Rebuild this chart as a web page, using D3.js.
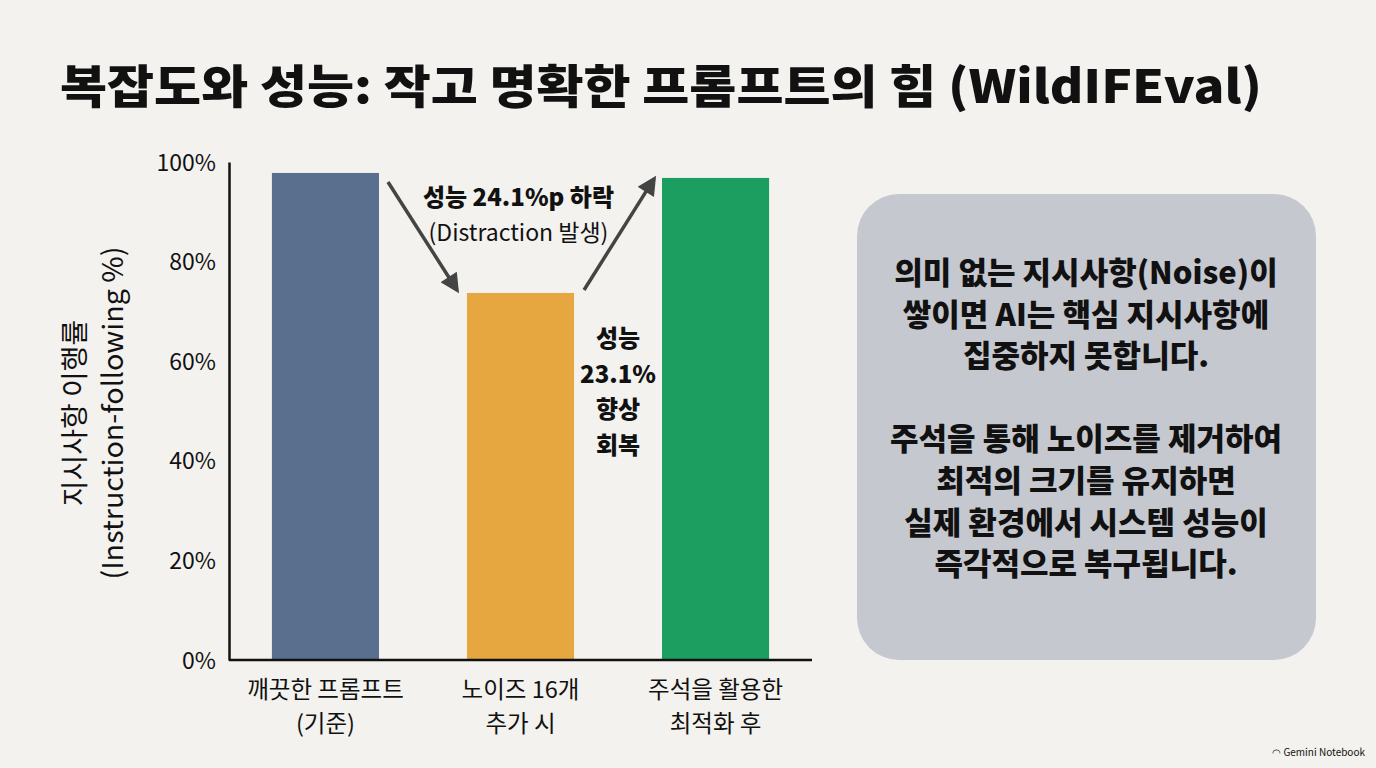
<!DOCTYPE html>
<html>
<head>
<meta charset="utf-8">
<title>복잡도와 성능</title>
<style>
	body { margin: 0; background: #f3f2ee; }
	svg text { font-family: "Noto Sans CJK KR", "Noto Sans", sans-serif; fill: #111; }
	.axis path { stroke: #111; stroke-width: 2.5; }
	.axis text { font-size: 23px; }
</style>
<script src="https://d3js.org/d3.v7.min.js"></script>
</head>
<body>
<svg id="chart"></svg>
<script>
	// data
	var categories = ["깨끗한 프롬프트|(기준)", "노이즈 16개|추가 시", "주석을 활용한|최적화 후"];
	var scores = [97.8, 73.7, 96.8];
	var barColors = ["#5a6f8e", "#e6a741", "#1b9e60"];
	var yTicks = [0, 20, 40, 60, 80, 100];
	var dropNote = ["성능 24.1%p 하락", "(Distraction 발생)"];
	var riseNote = ["성능", "23.1%", "향상", "회복"];
	var boxLines = ["의미 없는 지시사항(Noise)이", "쌓이면 AI는 핵심 지시사항에", "집중하지 못합니다.", "",
		"주석을 통해 노이즈를 제거하여", "최적의 크기를 유지하면", "실제 환경에서 시스템 성능이", "즉각적으로 복구됩니다."];

	var W = 1376, H = 768;
	var svg = d3.select("#chart").attr("width", W).attr("height", H);

	svg.append("rect").attr("width", W).attr("height", H).attr("fill", "#f3f2ee");

	// title
	svg.append("text")
		.attr("x", 60).attr("y", 103)
		.attr("textLength", 1202).attr("lengthAdjust", "spacingAndGlyphs")
		.style("font-size", "46px").style("font-weight", 900)
		.text("복잡도와 성능: 작고 명확한 프롬프트의 힘 (WildIFEval)");

	var x = d3.scaleBand()
		.domain(categories)
		.range([229, 812])
		.paddingInner(0.451)
		.paddingOuter(0.22);

	var y = d3.scaleLinear().domain([0, 100]).range([660, 162]);

	var defs = svg.append("defs");
	defs.append("marker")
		.attr("id", "head")
		.attr("viewBox", "0 0 10 10")
		.attr("refX", 8).attr("refY", 5)
		.attr("markerWidth", 6).attr("markerHeight", 5.5)
		.attr("orient", "auto")
		.append("path").attr("d", "M0,0 L10,5 L0,10 Z").attr("fill", "#444");

	// bars
	svg.append("g").selectAll("rect")
		.data(scores)
		.enter().append("rect")
		.attr("x", function(d, i) { return x(categories[i]); })
		.attr("y", function(d) { return y(d); })
		.attr("width", x.bandwidth())
		.attr("height", function(d) { return y(0) - y(d); })
		.attr("fill", function(d, i) { return barColors[i]; });

	// y axis
	var yAxis = d3.axisLeft(y).tickValues(yTicks).tickSize(0).tickPadding(13)
		.tickFormat(function(d) { return d + "%"; });
	var gy = svg.append("g").attr("class", "axis").attr("transform", "translate(229,0)").call(yAxis);
	gy.selectAll("text").attr("dy", "0.35em");

	// x axis, two-line category labels
	var xAxis = d3.axisBottom(x).tickSize(0).tickFormat("");
	var gx = svg.append("g").attr("class", "axis").attr("transform", "translate(0,660)").call(xAxis);
	gx.select("path").attr("d", "M229,0H812");
	gx.selectAll(".tick").each(function(d) {
		var tick = d3.select(this);
		d.split("|").forEach(function(line, k) {
			tick.append("text").attr("text-anchor", "middle").attr("x", 0).attr("y", 38 + k * 34)
				.style("font-size", "23.5px").attr("fill", "#111")
				.text(line);
		});
	});

	// y axis title
	var yt = svg.append("text")
		.attr("transform", "translate(0,413) rotate(-90)")
		.attr("text-anchor", "middle")
		.style("font-size", "28px");
	yt.append("tspan").attr("x", 0).attr("y", 85).text("지시사항 이행률");
	yt.append("tspan").attr("x", 0).attr("y", 123).attr("textLength", 333).attr("lengthAdjust", "spacingAndGlyphs")
		.text("(Instruction-following %)");

	// arrows between bars
	var b1r = x(categories[0]) + x.bandwidth(), b2l = x(categories[1]),
		b2r = x(categories[1]) + x.bandwidth(), b3l = x(categories[2]);
	svg.append("line")
		.attr("x1", b1r + 9).attr("y1", y(scores[0]) + 9)
		.attr("x2", b2l - 10).attr("y2", y(scores[1]) - 3)
		.attr("stroke", "#444").attr("stroke-width", 3.5).attr("marker-end", "url(#head)");
	svg.append("line")
		.attr("x1", b2r + 10).attr("y1", y(scores[1]) - 3)
		.attr("x2", b3l - 8).attr("y2", y(scores[2]) + 1)
		.attr("stroke", "#444").attr("stroke-width", 3.5).attr("marker-end", "url(#head)");

	// drop annotation
	var dropX = (b1r + b3l) / 2 - 2;
	svg.append("text").attr("x", dropX).attr("y", 206).attr("text-anchor", "middle")
		.style("font-size", "24px").style("font-weight", 900).text(dropNote[0]);
	svg.append("text").attr("x", dropX).attr("y", 241).attr("text-anchor", "middle")
		.style("font-size", "23px").text(dropNote[1]);

	// rise annotation
	var riseX = (b2r + b3l) / 2;
	riseNote.forEach(function(line, k) {
		svg.append("text").attr("x", riseX).attr("y", 347 + k * 35.5).attr("text-anchor", "middle")
			.style("font-size", "24px").style("font-weight", 900).text(line);
	});

	// side box
	svg.append("rect")
		.attr("x", 857).attr("y", 194).attr("width", 459).attr("height", 466)
		.attr("rx", 42).attr("fill", "#c6c8cf");
	boxLines.forEach(function(line, k) {
		svg.append("text").attr("x", 1086).attr("y", 284 + k * 41.6).attr("text-anchor", "middle")
			.style("font-size", "31px").style("font-weight", 900).text(line);
	});

	// footer mark
	svg.append("text").attr("x", 1365).attr("y", 756).attr("text-anchor", "end")
		.style("font-size", "10px").attr("fill", "#333").text("◠ Gemini Notebook");
</script>
</body>
</html>
